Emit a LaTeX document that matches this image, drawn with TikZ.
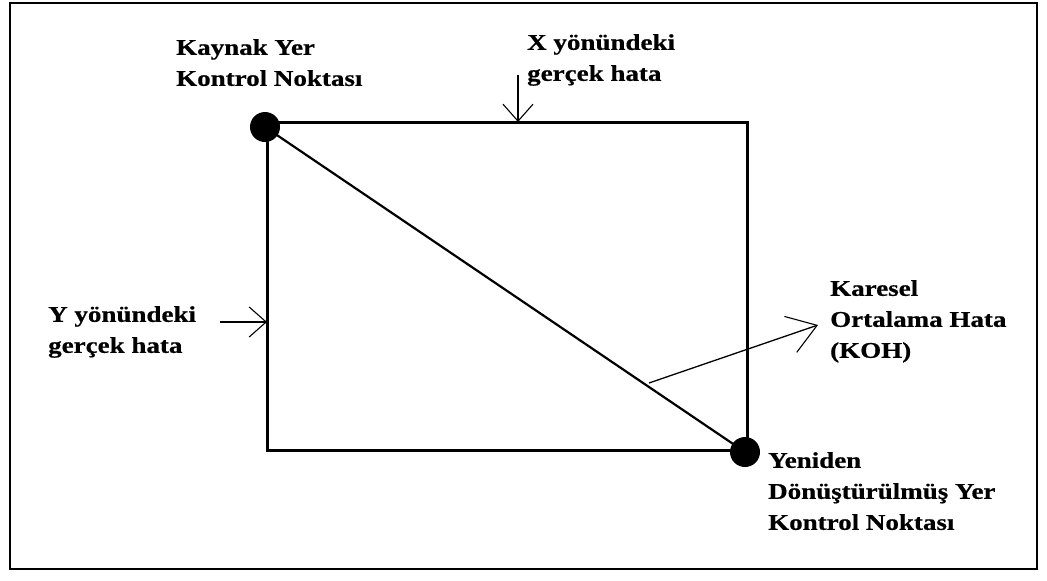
\documentclass[tikz,border=0pt]{standalone}
\usepackage{fontspec}
\setmainfont{Liberation Serif}
\newfontfamily\widebf[FakeStretch=1.2,FakeBold=0.6]{Liberation Serif Bold}
\usetikzlibrary{arrows.meta}
\begin{document}
\begin{tikzpicture}[x=1pt,y=-1pt,
  lbl/.style={anchor=north west,align=left,inner sep=0pt,font=\widebf\fontsize{22.5}{31}\selectfont},
  thick line/.style={line width=3pt},
  arr/.style={line width=1.3pt,-{Straight Barb[length=17pt,width=30pt,line width=1.1pt]}},
  bigarr/.style={line width=1.3pt,-{Straight Barb[length=28pt,width=38pt,line width=1.1pt]}},
  dot/.style={circle,fill=black,inner sep=0pt,minimum size=30pt}]
\useasboundingbox (0,0) rectangle (1047,581);
\draw[line width=1.2pt] (10,3) rectangle (1037,569);
\coordinate (tl) at (267,122);
\coordinate (tr) at (747,122);
\coordinate (br) at (747,450);
\coordinate (bl) at (267,450);
\draw[thick line] (tl) -- (tr) -- (br) -- (bl) -- cycle;
\node[dot] (src) at (265,127) {};
\node[dot] (dst) at (745,452) {};
\draw[line width=2.2pt] (src.center) -- (dst.center);
\coordinate (xs) at (518,75);
\coordinate (xe) at (518,122);
\draw[arr] (xs) -- (xe);
\coordinate (ys) at (220,322);
\coordinate (ye) at (267,322);
\draw[arr] (ys) -- (ye);
\coordinate (ks) at (649,383);
\coordinate (ke) at (818,325);
\draw[bigarr] (ks) -- (ke);
\node[lbl] (kaynak) at (176,39) {Kaynak Yer\\Kontrol Noktası};
\node[lbl] (xlab) at (527,34) {X yönündeki\\gerçek hata};
\node[lbl] (ylab) at (48,306) {Y yönündeki\\gerçek hata};
\node[lbl] (koh) at (830,280) {Karesel\\Ortalama Hata\\(KOH)};
\node[lbl] (yeni) at (768,452) {Yeniden\\Dönüştürülmüş Yer\\Kontrol Noktası};
\end{tikzpicture}
\end{document}
